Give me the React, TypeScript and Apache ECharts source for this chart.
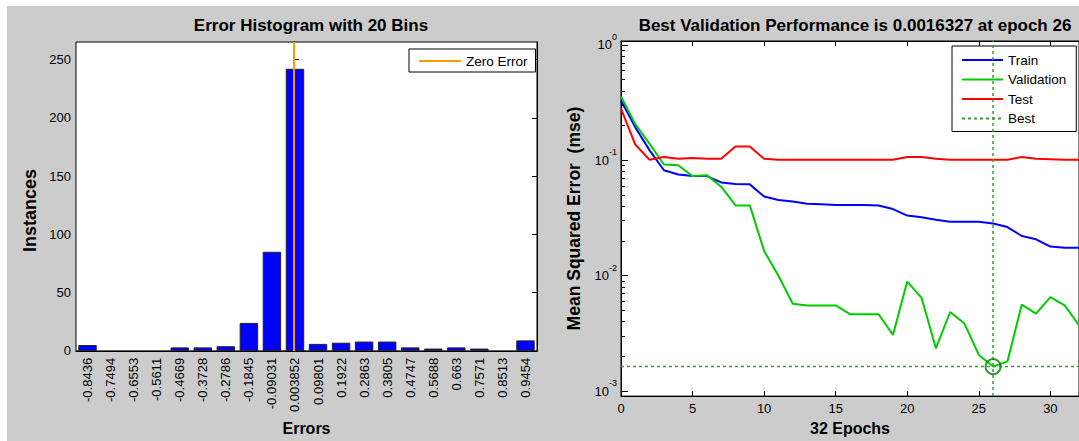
import React, { useEffect, useRef } from "react";
import * as echarts from "echarts";

// ---------- Left panel: error histogram ----------
const binLabels = [
  "-0.8436", "-0.7494", "-0.6553", "-0.5611", "-0.4669", "-0.3728", "-0.2786",
  "-0.1845", "-0.09031", "0.003852", "0.09801", "0.1922", "0.2863", "0.3805",
  "0.4747", "0.5688", "0.663", "0.7571", "0.8513", "0.9454",
];
const binCounts = [5, 0, 0, 0, 3, 3, 4, 24, 85, 242, 6, 7, 8, 8, 3, 2, 3, 2, 0, 9];
const histYTicks = [0, 50, 100, 150, 200, 250];
const errorRange = [-0.8907, 0.9925];
const zeroErrorLine = [[0, 0], [0, 265]];

// ---------- Right panel: performance ----------
const epochs = Array.from({ length: 33 }, (_, i) => i);
const trainMse = [
  0.33, 0.193, 0.122, 0.082, 0.0754, 0.073, 0.073, 0.0644, 0.0623, 0.0619,
  0.0485, 0.0454, 0.0439, 0.042, 0.0416, 0.0411, 0.0411, 0.0411, 0.0406, 0.0378,
  0.0332, 0.0321, 0.0306, 0.0294, 0.0293, 0.0293, 0.0283, 0.0264, 0.0221, 0.0207,
  0.0179, 0.0175, 0.0175,
];
const validationMse = [
  0.357, 0.206, 0.139, 0.092, 0.0906, 0.073, 0.0744, 0.0591, 0.0407, 0.0407,
  0.0164, 0.01, 0.00571, 0.00553, 0.00553, 0.00553, 0.00464, 0.00464, 0.00464, 0.00307,
  0.0089, 0.00644, 0.00235, 0.00485, 0.00385, 0.00206, 0.0016327, 0.00181, 0.00561, 0.0047,
  0.00653, 0.00553, 0.00373,
];
const testMse = [
  0.28, 0.137, 0.101, 0.107, 0.103, 0.105, 0.103, 0.103, 0.132, 0.132,
  0.103, 0.101, 0.101, 0.101, 0.101, 0.101, 0.101, 0.101, 0.101, 0.101,
  0.107, 0.107, 0.103, 0.101, 0.101, 0.101, 0.101, 0.101, 0.107, 0.103,
  0.102, 0.101, 0.101,
];
const bestEpoch = 26;
const bestValue = 0.0016327;
const epochTicks = [0, 5, 10, 15, 20, 25, 30];
const decadeTicks = [-3, -2, -1, 0];
const logRange = [-3.043, 0.034];

const lg = (v: number) => Math.log10(v);
const minorLogTicks: number[] = [];
for (let d = -4; d <= 0; d++) {
  for (let k = 2; k <= 9; k++) {
    const v = lg(k) + d;
    if (v > logRange[0] && v < logRange[1]) minorLogTicks.push(v);
  }
}

const FONT = "'Liberation Sans', Arial, Helvetica, sans-serif";
const BLACK = "#000";

export default function App() {
  const ref = useRef<HTMLDivElement>(null);

  useEffect(() => {
    if (!ref.current) return;
    const chart = echarts.init(ref.current, undefined, { renderer: "svg" });
    const tickStyle = { color: BLACK, width: 1 };
    const option: any = {
      animation: false,
      backgroundColor: "#ffffff",
      textStyle: { fontFamily: FONT, color: BLACK },
      graphic: [
        {
          type: "rect",
          z: -10,
          silent: true,
          shape: { x: 7, y: 6, width: 1072, height: 435 },
          style: { fill: "#cccccc" },
        },
      ],
      title: [
        {
          text: "Error Histogram with 20 Bins",
          left: 306,
          textAlign: "center",
          top: 12,
          textStyle: { fontFamily: FONT, fontSize: 17, fontWeight: "bold", color: BLACK },
        },
        {
          text: "Best Validation Performance is 0.0016327 at epoch 26",
          left: 850,
          textAlign: "center",
          top: 12,
          textStyle: { fontFamily: FONT, fontSize: 17, fontWeight: "bold", color: BLACK },
        },
      ],
      legend: [
        {
          data: ["Zero Error"],
          left: 409,
          top: 49,
          orient: "vertical",
          backgroundColor: "#fff",
          borderColor: BLACK,
          borderWidth: 1,
          borderRadius: 0,
          padding: [5, 8, 4, 9],
          itemWidth: 42,
          itemHeight: 14,
          itemStyle: { opacity: 0 },
          textStyle: { fontFamily: FONT, fontSize: 13.5, color: BLACK },
        },
        {
          data: ["Train", "Validation", "Test", "Best"],
          left: 952,
          top: 46,
          orient: "vertical",
          backgroundColor: "#fff",
          borderColor: BLACK,
          borderWidth: 1,
          borderRadius: 0,
          padding: [7, 10, 6, 9],
          itemWidth: 41,
          itemHeight: 14,
          itemGap: 5.5,
          itemStyle: { opacity: 0 },
          textStyle: { fontFamily: FONT, fontSize: 13.5, color: BLACK },
        },
      ],
      grid: [
        {
          left: 76, top: 42, width: 461, height: 318,
          show: true, backgroundColor: "#fff", borderColor: BLACK, borderWidth: 1,
          containLabel: false,
        },
        {
          left: 621, top: 41, width: 458, height: 359,
          show: true, backgroundColor: "#fff", borderColor: BLACK, borderWidth: 1,
          containLabel: false,
        },
      ],
      xAxis: [
        {
          type: "category", gridIndex: 0, position: "bottom", data: binLabels,
          boundaryGap: true,
          axisLine: { lineStyle: { color: BLACK } },
          axisTick: { inside: true, alignWithLabel: true, length: 5, lineStyle: tickStyle },
          axisLabel: { rotate: 90, interval: 0, fontSize: 13, color: BLACK, margin: 7, fontFamily: FONT },
          name: "Errors", nameLocation: "middle", nameGap: 63,
          nameTextStyle: { fontSize: 16, fontWeight: "bold", color: BLACK, fontFamily: FONT },
          splitLine: { show: false },
        },
        {
          type: "category", gridIndex: 0, position: "top", data: binLabels,
          boundaryGap: true,
          axisLine: { lineStyle: { color: BLACK } },
          axisTick: { inside: true, alignWithLabel: true, length: 5, lineStyle: tickStyle },
          axisLabel: { show: false },
          splitLine: { show: false },
        },
        {
          type: "value", gridIndex: 0, min: errorRange[0], max: errorRange[1], show: false,
        },
        {
          type: "value", gridIndex: 1, position: "bottom", min: 0, max: 32,
          axisLine: { onZero: false, lineStyle: { color: BLACK } },
          axisTick: { inside: true, length: 5, lineStyle: tickStyle, customValues: epochTicks },
          axisLabel: { fontSize: 13, color: BLACK, margin: 6, customValues: epochTicks, fontFamily: FONT },
          name: "32 Epochs", nameLocation: "middle", nameGap: 23,
          nameTextStyle: { fontSize: 16, fontWeight: "bold", color: BLACK, fontFamily: FONT },
          splitLine: { show: false },
        },
        {
          type: "value", gridIndex: 1, position: "top", min: 0, max: 32,
          axisLine: { onZero: false, lineStyle: { color: BLACK } },
          axisTick: { inside: true, length: 5, lineStyle: tickStyle, customValues: epochTicks },
          axisLabel: { show: false },
          splitLine: { show: false },
        },
      ],
      yAxis: [
        {
          type: "value", gridIndex: 0, position: "left", min: 0, max: 265,
          axisLine: { show: true, lineStyle: { color: BLACK } },
          axisTick: { show: true, inside: true, length: 5, lineStyle: tickStyle, customValues: histYTicks },
          axisLabel: { fontSize: 13, color: BLACK, margin: 5, customValues: histYTicks, fontFamily: FONT },
          name: "Instances", nameLocation: "middle", nameGap: 37,
          nameTextStyle: {
            fontSize: 18, fontWeight: "bold", color: BLACK, fontFamily: FONT,
            padding: [0, 28, 0, 0],
          },
          splitLine: { show: false },
        },
        {
          type: "value", gridIndex: 0, position: "right", min: 0, max: 265,
          axisLine: { show: true, lineStyle: { color: BLACK } },
          axisTick: { show: true, inside: true, length: 5, lineStyle: tickStyle, customValues: histYTicks },
          axisLabel: { show: false },
          splitLine: { show: false },
        },
        {
          type: "value", gridIndex: 1, position: "left", min: logRange[0], max: logRange[1],
          axisLine: { show: true, onZero: false, lineStyle: { color: BLACK } },
          axisTick: { show: true, inside: true, length: 7, lineStyle: tickStyle, customValues: decadeTicks },
          axisLabel: {
            margin: 4,
            customValues: decadeTicks,
            formatter: (v: number) => `{b|10}{s|${Math.round(v)}}`,
            padding: [0, 0, 6, 0],
            rich: {
              b: { fontSize: 13, color: BLACK, fontFamily: FONT, padding: [6, 0, 0, 0], verticalAlign: "bottom" },
              s: { fontSize: 9, color: BLACK, fontFamily: FONT, verticalAlign: "top" },
            },
          },
          name: "Mean Squared Error  (mse)", nameLocation: "middle", nameGap: 38,
          nameTextStyle: { fontSize: 17.5, fontWeight: "bold", color: BLACK, fontFamily: FONT },
          splitLine: { show: false },
        },
        {
          type: "value", gridIndex: 1, position: "left", min: logRange[0], max: logRange[1],
          axisLine: { show: false },
          axisTick: { show: true, inside: true, length: 4, lineStyle: tickStyle, customValues: minorLogTicks },
          axisLabel: { show: false },
          splitLine: { show: false },
        },
      ],
      series: [
        {
          name: "Errors",
          type: "bar",
          xAxisIndex: 0,
          yAxisIndex: 0,
          data: binCounts.map((c) => (c === 0 ? "-" : c)),
          barWidth: "80%",
          itemStyle: { color: "#0000ff", borderColor: "#222", borderWidth: 1 },
        },
        {
          name: "Zero Error",
          type: "line",
          xAxisIndex: 2,
          yAxisIndex: 0,
          data: zeroErrorLine,
          symbol: "none",
          color: "#ff9900",
          lineStyle: { color: "#ff9900", width: 2 },
          z: 5,
        },
        {
          name: "Train",
          type: "line",
          xAxisIndex: 3,
          yAxisIndex: 2,
          data: epochs.map((e) => [e, lg(trainMse[e])]),
          symbol: "none",
          color: "#0000ff",
          lineStyle: { color: "#0000ff", width: 2 },
        },
        {
          name: "Validation",
          type: "line",
          xAxisIndex: 3,
          yAxisIndex: 2,
          data: epochs.map((e) => [e, lg(validationMse[e])]),
          symbol: "none",
          color: "#00cc00",
          lineStyle: { color: "#00cc00", width: 2 },
        },
        {
          name: "Test",
          type: "line",
          xAxisIndex: 3,
          yAxisIndex: 2,
          data: epochs.map((e) => [e, lg(testMse[e])]),
          symbol: "none",
          color: "#ff0000",
          lineStyle: { color: "#ff0000", width: 2 },
        },
        {
          name: "Best",
          type: "line",
          xAxisIndex: 3,
          yAxisIndex: 2,
          data: [[0, lg(bestValue)], [32, lg(bestValue)]],
          symbol: "none",
          color: "#3a9a3a",
          lineStyle: { color: "#3a9a3a", width: 1.5, type: [3, 3] },
          markLine: {
            silent: true,
            symbol: "none",
            label: { show: false },
            lineStyle: { color: "#3a9a3a", width: 1.5, type: [3, 3] },
            data: [{ xAxis: bestEpoch }],
          },
        },
        {
          name: "BestPoint",
          type: "scatter",
          xAxisIndex: 3,
          yAxisIndex: 2,
          data: [[bestEpoch, lg(bestValue)]],
          symbol: "circle",
          symbolSize: 15,
          itemStyle: { color: "rgba(0,0,0,0)", borderColor: "#008000", borderWidth: 2 },
          z: 6,
        },
      ],
    };
    chart.setOption(option);
    return () => chart.dispose();
  }, []);

  return (
    <div
      ref={ref}
      style={{ position: "absolute", left: 0, top: 0, width: 1079, height: 441 }}
    />
  );
}
